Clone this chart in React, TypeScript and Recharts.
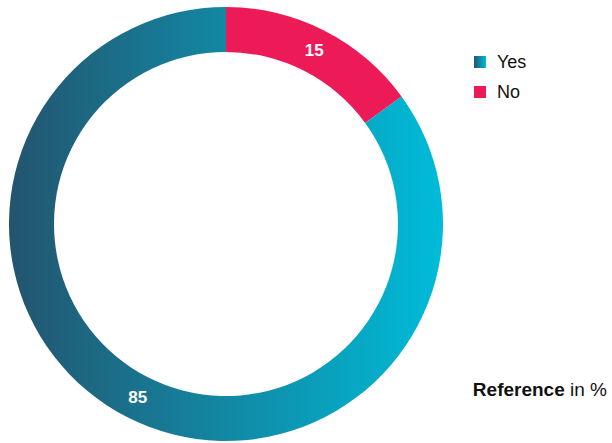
import React from 'react';
import { PieChart, Pie, Cell, Legend } from 'recharts';

const categories = ['No', 'Yes'];
const values = [15, 85];
const legendOrder = ['Yes', 'No'];

const fills: Record<string, string> = { Yes: 'url(#yesGrad)', No: '#ed1a58' };
const font = '"Liberation Sans", Arial, sans-serif';

const data = categories.map((name, i) => ({ name, value: values[i] }));

const RADIAN = Math.PI / 180;

function renderLabel(props: any) {
  const { cx, cy, midAngle, innerRadius, outerRadius, value } = props;
  const r = (innerRadius + outerRadius) / 2;
  const x = cx + r * Math.cos(-midAngle * RADIAN);
  const y = cy + r * Math.sin(-midAngle * RADIAN);
  return (
    <text x={x} y={y} fill="#fff" textAnchor="middle" dominantBaseline="central"
      fontFamily={font} fontWeight="bold" fontSize={17}>
      {value}
    </text>
  );
}

function LegendContent() {
  return (
    <div style={{ fontFamily: font, fontSize: 18, color: '#111' }}>
      {legendOrder.map(name => (
        <div key={name} style={{ display: 'flex', alignItems: 'center', height: 30 }}>
          <span style={{
            width: 12, height: 12, marginRight: 11, display: 'inline-block',
            background: name === 'Yes' ? 'linear-gradient(to right, #24546e, #00bcd9)' : fills[name],
          }} />
          {name}
        </div>
      ))}
    </div>
  );
}

export default function App() {
  return (
    <div style={{ position: 'absolute', left: 0, top: 0, width: 612, height: 443, background: '#fff' }}>
      <PieChart width={612} height={443} margin={{ top: 0, right: 0, bottom: 0, left: 0 }}>
        <defs>
          <linearGradient id="yesGrad" x1="0" y1="0" x2="1" y2="0">
            <stop offset="0%" stopColor="#24546e" />
            <stop offset="100%" stopColor="#00bcd9" />
          </linearGradient>
        </defs>
        <Pie
          data={data}
          dataKey="value"
          nameKey="name"
          cx={226}
          cy={224}
          innerRadius={172}
          outerRadius={217}
          startAngle={90}
          endAngle={-270}
          stroke="none"
          label={renderLabel}
          labelLine={false}
          isAnimationActive={false}
        >
          {data.map(d => <Cell key={d.name} fill={fills[d.name]} />)}
        </Pie>
        <Legend content={<LegendContent />} wrapperStyle={{ left: 474, top: 47, width: 100 }} />
      </PieChart>
      <div style={{ position: 'absolute', right: 5, top: 379, fontFamily: font, fontSize: 19, color: '#111' }}>
        <b>Reference</b> in %
      </div>
    </div>
  );
}
